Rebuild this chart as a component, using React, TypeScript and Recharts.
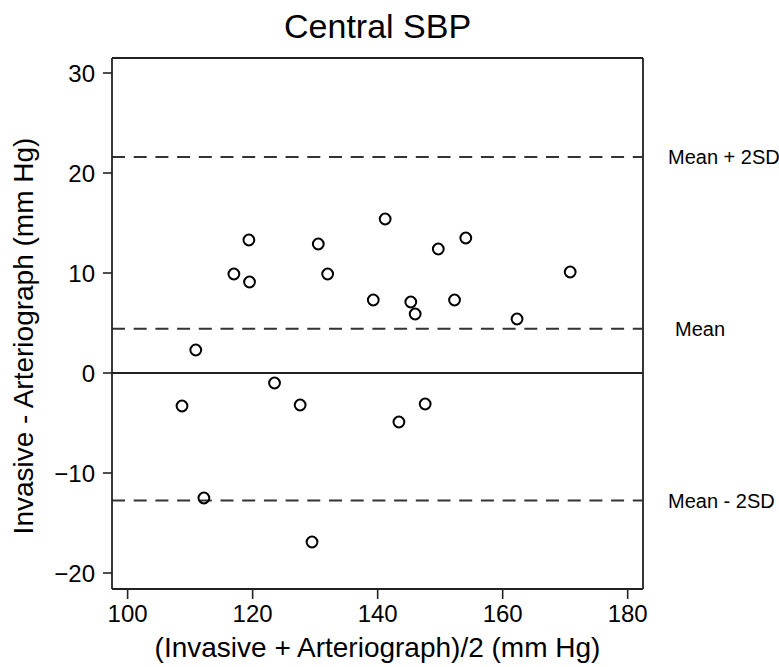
import {
  ScatterChart,
  Scatter,
  XAxis,
  YAxis,
  ReferenceLine
} from 'recharts';

// mean of invasive & arteriograph (x) vs difference (y)
const meanBP = [
  119.4, 117.0, 119.5, 130.5, 132.0, 139.3, 110.9, 123.5, 108.7, 127.6, 141.2,
  149.7, 154.1, 170.8, 145.3, 146.0, 152.3, 162.3, 147.6, 143.4, 112.2, 129.5
];
const diffBP = [
  13.3, 9.9, 9.1, 12.9, 9.9, 7.3, 2.3, -1.0, -3.3, -3.2, 15.4,
  12.4, 13.5, 10.1, 7.1, 5.9, 7.3, 5.4, -3.1, -4.9, -12.5, -16.9
];

const limitValues = [21.6, 4.43, -12.74];
const limitLabels = ['Mean + 2SD', 'Mean', 'Mean - 2SD'];
const limitOffsets = [25, 32, 25];

const xTicks = [100, 120, 140, 160, 180];
const yTicks = [-20, -10, 0, 10, 20, 30];

const xDomain: [number, number] = [97.5, 182.45];
const yDomain: [number, number] = [-21.6, 31.5];

const points = meanBP.map((x, i) => ({ x, y: diffBP[i] }));

const FONT = '"Liberation Sans", Arial, Helvetica, sans-serif';
const INK = '#222';

const fmtTick = (v: number) => (v < 0 ? `\u2212${Math.abs(v)}` : `${v}`);

const OpenCircle = (props: any) => (
  <circle cx={props.cx} cy={props.cy} r={5.4} fill="none" stroke="#000" strokeWidth={2} />
);

const App = () => {
  return (
    <div style={{ position: 'absolute', left: 0, top: 0 }}>
      <ScatterChart
        width={779}
        height={667}
        margin={{ top: 58, right: 136, bottom: 0, left: 12 }}
        style={{ fontFamily: FONT }}
      >
        <text x={377.6} y={37.7} textAnchor="middle" fontSize={34} fill="#000" fontFamily={FONT}>
          Central SBP
        </text>
        <text
          x={33}
          y={336}
          transform="rotate(-90, 33, 336)"
          textAnchor="middle"
          fontSize={28}
          fill="#000"
          fontFamily={FONT}
        >
          Invasive - Arteriograph (mm Hg)
        </text>
        <XAxis
          type="number"
          dataKey="x"
          domain={xDomain}
          ticks={xTicks}
          allowDataOverflow
          height={78}
          tickSize={10}
          tickMargin={6}
          axisLine={{ stroke: INK, strokeWidth: 1.8 }}
          tickLine={{ stroke: INK, strokeWidth: 1.6 }}
          tick={{ fontSize: 24, fill: '#000' }}
          label={{
            value: '(Invasive + Arteriograph)/2 (mm Hg)',
            position: 'insideBottom',
            offset: 10,
            fontSize: 28,
            fill: '#000'
          }}
        />
        <YAxis
          type="number"
          dataKey="y"
          domain={yDomain}
          ticks={yTicks}
          allowDataOverflow
          width={100}
          tickSize={9}
          tickMargin={8}
          tickFormatter={fmtTick}
          axisLine={{ stroke: INK, strokeWidth: 1.8 }}
          tickLine={{ stroke: INK, strokeWidth: 1.6 }}
          tick={{ fontSize: 24, fill: '#000' }}
        />
        {/* top and right edges of the frame */}
        <ReferenceLine y={yDomain[1]} stroke={INK} strokeWidth={1.8} />
        <ReferenceLine x={xDomain[1]} stroke={INK} strokeWidth={1.8} />
        <ReferenceLine y={0} stroke={INK} strokeWidth={2} />
        {limitValues.map((v, i) => (
          <ReferenceLine
            key={limitLabels[i]}
            y={v}
            stroke="#333"
            strokeWidth={2}
            strokeDasharray="13 8.7"
            label={{
              value: limitLabels[i],
              position: 'right',
              offset: limitOffsets[i],
              fontSize: 20,
              fill: '#000'
            }}
          />
        ))}
        <Scatter data={points} shape={OpenCircle} isAnimationActive={false} />
      </ScatterChart>
    </div>
  );
};

export default App;
